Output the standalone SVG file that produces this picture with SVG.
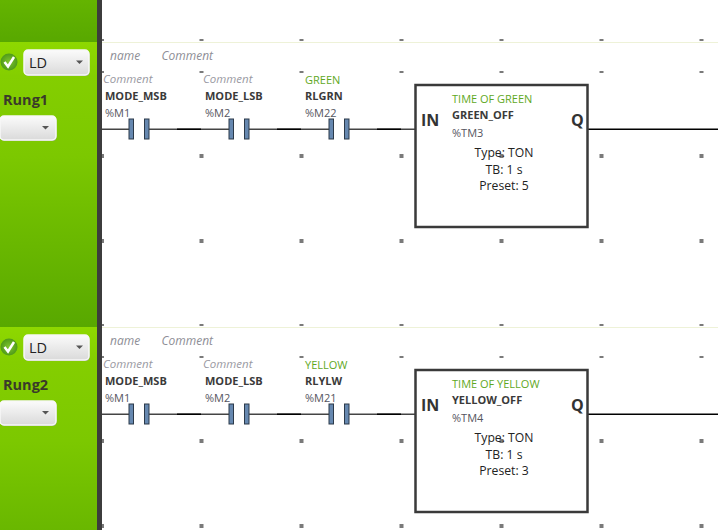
<svg xmlns="http://www.w3.org/2000/svg" width="718" height="530" viewBox="0 0 718 530">
<defs>
<linearGradient id="side1" gradientUnits="userSpaceOnUse" x1="0" y1="42" x2="0" y2="327"><stop offset="0" stop-color="#8ed800"/><stop offset="0.12" stop-color="#84ce00"/><stop offset="0.4" stop-color="#7cc800"/><stop offset="1" stop-color="#58a800"/></linearGradient>
<linearGradient id="side2" gradientUnits="userSpaceOnUse" x1="0" y1="327" x2="0" y2="612"><stop offset="0" stop-color="#8ed800"/><stop offset="0.12" stop-color="#84ce00"/><stop offset="0.4" stop-color="#7cc800"/><stop offset="1" stop-color="#58a800"/></linearGradient>
<linearGradient id="side0" gradientUnits="userSpaceOnUse" x1="0" y1="0" x2="0" y2="42"><stop offset="0" stop-color="#64b400"/><stop offset="1" stop-color="#58a800"/></linearGradient>
<linearGradient id="btn" x1="0" y1="0" x2="0" y2="1"><stop offset="0" stop-color="#fbfbfb"/><stop offset="1" stop-color="#dadada"/></linearGradient>
<radialGradient id="chk"><stop offset="0" stop-color="#80c62e"/><stop offset="1" stop-color="#4f9a1a"/></radialGradient>
<rect id="dot" x="-2" y="-2" width="4" height="4" fill="#7a7a7a"/>
<rect id="dotf" x="-2" y="-1" width="4" height="2" fill="#7a7a7a"/>
<rect id="dote" x="0" y="-2" width="2" height="4" fill="#7a7a7a"/>
<rect id="dotef" x="0" y="-1" width="2" height="2" fill="#7a7a7a"/>
<g id="contact"><rect x="-2.500" y="-10" width="4.500" height="20" fill="#6688b0" stroke="#2c3a4a" stroke-width="1"/></g>
</defs>
<style>
text{font-family:"Open Sans","Noto Sans","Liberation Sans",sans-serif}
.cm{font-size:11.500px;font-style:italic;fill:#9a9aa2}
.nm{font-size:12px;font-style:italic;fill:#8e8e96}
.gr{font-size:11px;fill:#5fa81e}
.bd{font-size:11px;font-weight:700;fill:#3a3a3a}
.ad{font-size:11px;fill:#555560}
.pin{font-size:16px;font-weight:700;fill:#333}
.par{font-size:12.200px;fill:#222;text-anchor:middle}
.lab{font-size:14.500px;font-weight:700;fill:#3a3a2a}
.ld{font-size:14.500px;fill:#222}
.w{stroke:#444;stroke-width:1.400;fill:none}
.k{stroke:#000;stroke-width:1.600;fill:none}
.sel{fill:url(#btn);stroke:#f8f8f8;stroke-width:1.500}
.shd{fill:#9fae88}
.tri{fill:#555}
</style>
<rect width="718" height="530" fill="#fff"/>
<g id="sidebar">
<rect x="0" y="0" width="97" height="42" fill="url(#side0)"/>
<rect x="0" y="42" width="97" height="285" fill="url(#side1)"/>
<rect x="0" y="327" width="97" height="203" fill="url(#side2)"/>
<rect x="97" y="0" width="5" height="530" fill="#3c3c3c"/>
<line x1="102" y1="42.500" x2="718" y2="42.500" stroke="#eef2d8"/>
<line x1="102" y1="327.500" x2="718" y2="327.500" stroke="#eef2d8"/>
</g>
<g id="grid">
<use href="#dotef" x="102" y="40"/><use href="#dotf" x="201.500" y="40"/><use href="#dotf" x="301.500" y="40"/><use href="#dotf" x="401.500" y="40"/><use href="#dotf" x="501.500" y="40"/><use href="#dotf" x="601.500" y="40"/><use href="#dotf" x="701.500" y="40"/>
<use href="#dotef" x="102" y="72"/><use href="#dotf" x="201.500" y="72"/><use href="#dotf" x="301.500" y="72"/><use href="#dotf" x="401.500" y="72"/><use href="#dotf" x="501.500" y="72"/><use href="#dotf" x="601.500" y="72"/><use href="#dotf" x="701.500" y="72"/>
<use href="#dote" x="102" y="156"/><use href="#dot" x="201.500" y="156"/><use href="#dot" x="301.500" y="156"/><use href="#dot" x="401.500" y="156"/><use href="#dot" x="501.500" y="156"/><use href="#dot" x="601.500" y="156"/><use href="#dot" x="701.500" y="156"/>
<use href="#dote" x="102" y="241"/><use href="#dot" x="201.500" y="241"/><use href="#dot" x="301.500" y="241"/><use href="#dot" x="401.500" y="241"/><use href="#dot" x="501.500" y="241"/><use href="#dot" x="601.500" y="241"/><use href="#dot" x="701.500" y="241"/>
<use href="#dotef" x="102" y="325"/><use href="#dotf" x="201.500" y="325"/><use href="#dotf" x="301.500" y="325"/><use href="#dotf" x="401.500" y="325"/><use href="#dotf" x="501.500" y="325"/><use href="#dotf" x="601.500" y="325"/><use href="#dotf" x="701.500" y="325"/>
<use href="#dotef" x="102" y="357"/><use href="#dotf" x="201.500" y="357"/><use href="#dotf" x="301.500" y="357"/><use href="#dotf" x="401.500" y="357"/><use href="#dotf" x="501.500" y="357"/><use href="#dotf" x="601.500" y="357"/><use href="#dotf" x="701.500" y="357"/>
<use href="#dote" x="102" y="441"/><use href="#dot" x="201.500" y="441"/><use href="#dot" x="301.500" y="441"/><use href="#dot" x="401.500" y="441"/><use href="#dot" x="501.500" y="441"/><use href="#dot" x="601.500" y="441"/><use href="#dot" x="701.500" y="441"/>
<use href="#dote" x="102" y="526"/><use href="#dot" x="201.500" y="526"/><use href="#dot" x="301.500" y="526"/><use href="#dot" x="401.500" y="526"/><use href="#dot" x="501.500" y="526"/><use href="#dot" x="601.500" y="526"/><use href="#dot" x="701.500" y="526"/>
</g>
<g id="connectors">
<path class="w" d="M102 129.300H131M147 129.300H231M247 129.300H331M347 129.300H416"/>
<path class="k" d="M177 129.300H201M277 129.300H301M377 129.300H401M588 129.300H718"/>
<path class="w" d="M102 414.300H131M147 414.300H231M247 414.300H331M347 414.300H416"/>
<path class="k" d="M177 414.300H201M277 414.300H301M377 414.300H401M588 414.300H718"/>
</g>
<g id="rung1-controls">
<circle cx="9" cy="62" r="8.500" fill="url(#chk)"/>
<path d="M4.500 62l3.500 4.500 6-9.500" fill="none" stroke="#fff" stroke-width="2.500"/>
<rect class="shd" x="24.500" y="51" width="65" height="25" rx="4"/>
<rect class="sel" x="24" y="50" width="65" height="25" rx="4"/>
<text class="ld" x="29" y="68">LD</text>
<path class="tri" d="M76 60.500h7l-3.500 3.500z"/>
<text class="lab" x="3" y="105">Rung1</text>
<rect class="shd" x="0.500" y="117" width="56" height="24" rx="4"/>
<rect class="sel" x="0" y="116" width="56" height="24" rx="4"/>
<path class="tri" d="M42 126h7l-3.500 3.500z"/>
</g>
<g id="rung2-controls">
<circle cx="9" cy="347" r="8.500" fill="url(#chk)"/>
<path d="M4.500 347l3.500 4.500 6-9.500" fill="none" stroke="#fff" stroke-width="2.500"/>
<rect class="shd" x="24.500" y="336" width="65" height="25" rx="4"/>
<rect class="sel" x="24" y="335" width="65" height="25" rx="4"/>
<text class="ld" x="29" y="353">LD</text>
<path class="tri" d="M76 345.500h7l-3.500 3.500z"/>
<text class="lab" x="3" y="390">Rung2</text>
<rect class="shd" x="0.500" y="402" width="56" height="24" rx="4"/>
<rect class="sel" x="0" y="401" width="56" height="24" rx="4"/>
<path class="tri" d="M42 411h7l-3.500 3.500z"/>
</g>
<g id="rung1-header"><text class="nm" x="110" y="60">name</text><text class="nm" x="161.500" y="60">Comment</text></g>
<g id="rung2-header"><text class="nm" x="110" y="345">name</text><text class="nm" x="161.500" y="345">Comment</text></g>
<g id="r1-c1"><text class="cm" x="103" y="83">Comment</text><text class="bd" x="105" y="100">MODE_MSB</text><text class="ad" x="105" y="117">%M1</text><use href="#contact" x="131.500" y="129"/><use href="#contact" x="147" y="129"/></g>
<g id="r1-c2"><text class="cm" x="203" y="83">Comment</text><text class="bd" x="205" y="100">MODE_LSB</text><text class="ad" x="205" y="117">%M2</text><use href="#contact" x="231.500" y="129"/><use href="#contact" x="247" y="129"/></g>
<g id="r1-c3"><text class="gr" x="305" y="84">GREEN</text><text class="bd" x="305" y="100">RLGRN</text><text class="ad" x="305" y="117">%M22</text><use href="#contact" x="331.500" y="129"/><use href="#contact" x="347" y="129"/></g>
<g id="r2-c1"><text class="cm" x="103" y="368">Comment</text><text class="bd" x="105" y="385">MODE_MSB</text><text class="ad" x="105" y="402">%M1</text><use href="#contact" x="131.500" y="414"/><use href="#contact" x="147" y="414"/></g>
<g id="r2-c2"><text class="cm" x="203" y="368">Comment</text><text class="bd" x="205" y="385">MODE_LSB</text><text class="ad" x="205" y="402">%M2</text><use href="#contact" x="231.500" y="414"/><use href="#contact" x="247" y="414"/></g>
<g id="r2-c3"><text class="gr" x="305" y="369">YELLOW</text><text class="bd" x="305" y="385">RLYLW</text><text class="ad" x="305" y="402">%M21</text><use href="#contact" x="331.500" y="414"/><use href="#contact" x="347" y="414"/></g>
<g id="timer1">
<rect x="415.500" y="85" width="172" height="142" fill="none" stroke="#3a3a3a" stroke-width="2.500"/>
<text class="pin" x="421" y="126">IN</text><text class="pin" x="571" y="126">Q</text>
<text class="gr" x="452" y="103">TIME OF GREEN</text><text class="bd" x="452" y="119">GREEN_OFF</text><text class="ad" x="452" y="137">%TM3</text>
<text class="par" x="504" y="157">Type: TON</text><text class="par" x="504" y="174">TB: 1 s</text><text class="par" x="504" y="190">Preset: 5</text>
</g>
<g id="timer2">
<rect x="415.500" y="370" width="172" height="142" fill="none" stroke="#3a3a3a" stroke-width="2.500"/>
<text class="pin" x="421" y="411">IN</text><text class="pin" x="571" y="411">Q</text>
<text class="gr" x="452" y="388">TIME OF YELLOW</text><text class="bd" x="452" y="404">YELLOW_OFF</text><text class="ad" x="452" y="422">%TM4</text>
<text class="par" x="504" y="442">Type: TON</text><text class="par" x="504" y="459">TB: 1 s</text><text class="par" x="504" y="475">Preset: 3</text>
</g>
</svg>
